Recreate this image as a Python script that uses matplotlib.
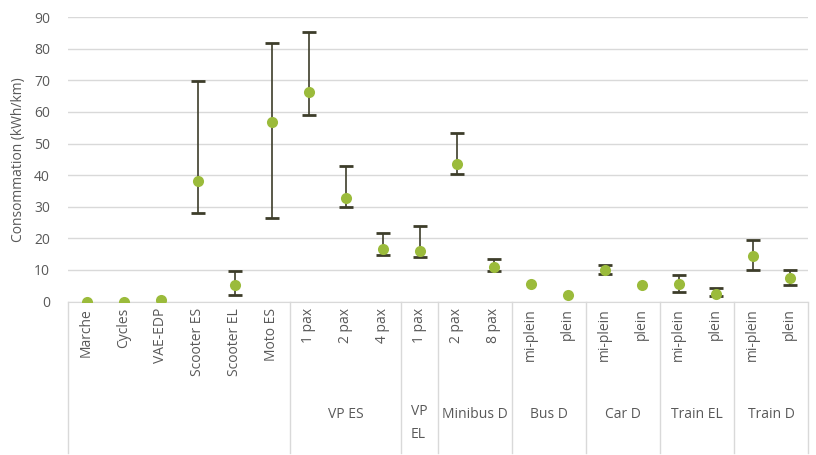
import matplotlib
matplotlib.use("Agg")
import matplotlib.pyplot as plt
import numpy as np

plt.rcParams['font.family'] = ['Open Sans', 'DejaVu Sans']

categories = ["Marche", "Cycles", "VAE-EDP", "Scooter ES", "Scooter EL", "Moto ES",
              "1 pax", "2 pax", "4 pax",
              "1 pax",
              "2 pax", "8 pax",
              "mi-plein", "plein",
              "mi-plein", "plein",
              "mi-plein", "plein",
              "mi-plein", "plein"]
values = [0.0, 0.0, 0.6, 38.2, 5.2, 56.9,
          66.4, 32.8, 16.6,
          15.9,
          43.4, 10.8,
          5.4, 2.2,
          9.9, 5.1,
          5.6, 2.4,
          14.5, 7.5]
lower = [0.0, 0.0, 0.6, 28.1, 2.0, 26.5,
         59.0, 29.8, 14.7,
         14.0,
         40.5, 9.8,
         5.4, 2.2,
         8.8, 5.1,
         3.1, 1.8,
         9.9, 5.2]
upper = [0.0, 0.0, 0.6, 69.8, 9.5, 81.7,
         85.4, 42.9, 21.8,
         24.0,
         53.2, 13.4,
         5.4, 2.2,
         11.5, 5.1,
         8.4, 4.3,
         19.6, 10.1]
# groups: (label, first index, last index)
groups = [("", 0, 5), ("VP ES", 6, 8), ("VP\nEL", 9, 9), ("Minibus D", 10, 11),
          ("Bus D", 12, 13), ("Car D", 14, 15), ("Train EL", 16, 17), ("Train D", 18, 19)]

W, H = 816, 455
fig = plt.figure(figsize=(W / 100, H / 100), dpi=100)
x0, x1 = 68, 808
y0, ytop = 301.5, 17.1
ax = fig.add_axes([x0 / W, 1 - y0 / H, (x1 - x0) / W, (y0 - ytop) / H])

x = np.arange(len(categories))
v = np.array(values)
lo = v - np.array(lower)
hi = np.array(upper) - v
mask = (lo > 0) | (hi > 0)
ax.errorbar(x[mask], v[mask], yerr=[lo[mask], hi[mask]], fmt='none',
            ecolor='#3d3d2a', elinewidth=1.2, capsize=5, capthick=2, zorder=3)
ax.plot(x, v, 'o', color='#9BBB3B', markersize=8, zorder=4, markeredgewidth=0)

ax.set_xlim(-0.5, len(categories) - 0.5)
ax.set_ylim(0, 90)
ax.set_yticks(np.arange(0, 91, 10))
ax.yaxis.grid(True, color='#d9d9d9', linewidth=1)
ax.set_axisbelow(True)
for s in ['left', 'right', 'top']:
    ax.spines[s].set_visible(False)
ax.spines['bottom'].set_color('#d9d9d9')
ax.tick_params(axis='y', length=0, pad=13, labelsize=10, labelcolor='#595959')
ax.tick_params(axis='x', length=0, labelbottom=False)
ax.set_ylabel("Consommation (kWh/km)", fontsize=10, color='#595959')
ax.yaxis.set_label_coords(-(68 - 26) / (x1 - x0), 0.5)

# category labels
px_per_cat = (x1 - x0) / len(categories)
def fx(i):
    return (x0 + (i + 0.5) * px_per_cat) / W
def fxb(b):
    return (x0 + b * px_per_cat) / W

for i, c in enumerate(categories):
    fig.text(fx(i), 1 - 308 / H, c, rotation=90, ha='center', va='top',
             fontsize=10, color='#595959')

# group labels and separators
line_color = '#d9d9d9'
bounds = set()
for label, a, b in groups:
    if label:
        bounds.add(a)
        bounds.add(b + 1)
        cx = (fxb(a) + fxb(b + 1)) / 2
        if "\n" in label:
            fig.text(fxb(a) + 10 / W, 1 - 404 / H, label, ha='left', va='top',
                     fontsize=10, color='#595959', linespacing=1.75)
        else:
            fig.text(cx, 1 - 414 / H, label, ha='center', va='center',
                     fontsize=10, color='#595959')
bounds.add(0)
bounds.add(len(categories))
for bnd in sorted(bounds):
    xx = fxb(bnd)
    fig.add_artist(plt.Line2D([xx, xx], [1 - 302 / H, 1 - 453 / H],
                              color=line_color, linewidth=1))

fig.savefig("out.png", dpi=100)
